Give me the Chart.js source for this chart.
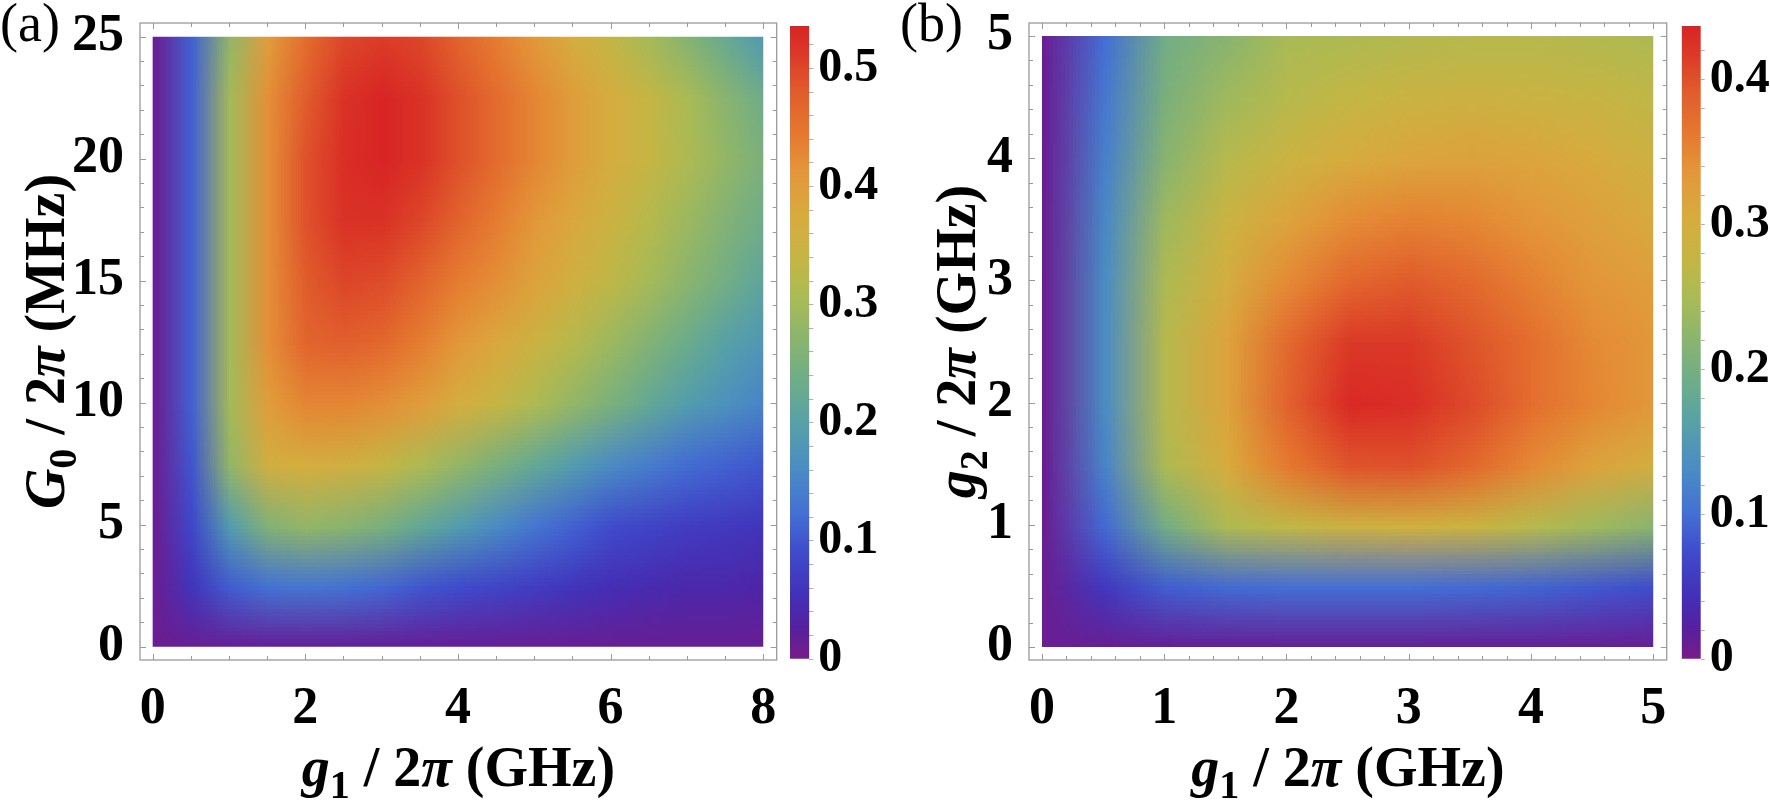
<!DOCTYPE html>
<html>
<head>
<meta charset="utf-8">
<script src="https://cdn.jsdelivr.net/npm/chart.js@4.4.1/dist/chart.umd.min.js"></script>
<style>
  body { margin: 0; background: #fff; width: 1770px; height: 803px; overflow: hidden; }
  canvas { position: absolute; top: 0; }
</style>
</head>
<body>
<canvas id="heatA" width="790" height="803" style="left:0px"></canvas>
<canvas id="barA" width="100" height="803" style="left:780px"></canvas>
<canvas id="heatB" width="802" height="803" style="left:870px"></canvas>
<canvas id="barB" width="98" height="803" style="left:1672px"></canvas>
<script>
// ---- panel (a): g1 (GHz) vs G0 (MHz) ----
const xsA = [0, 0.5, 1, 1.5, 2, 2.5, 3, 3.5, 4, 4.5, 5, 5.5, 6, 6.5, 7, 7.5, 8];
const ysA = [0, 2.5, 5, 7.5, 10, 12.5, 15, 17.5, 20, 22.5, 25];
// rows go from G0 = 0 (first) up to G0 = 25 (last)
const zA = [
  [0.010, 0.012, 0.014, 0.015, 0.015, 0.015, 0.015, 0.015, 0.014, 0.014, 0.013, 0.013, 0.012, 0.012, 0.012, 0.012, 0.012],
  [0.010, 0.060, 0.105, 0.125, 0.130, 0.125, 0.115, 0.100, 0.090, 0.080, 0.070, 0.060, 0.050, 0.045, 0.040, 0.040, 0.035],
  [0.010, 0.085, 0.190, 0.260, 0.280, 0.270, 0.250, 0.220, 0.190, 0.160, 0.130, 0.110, 0.090, 0.080, 0.070, 0.065, 0.060],
  [0.010, 0.100, 0.280, 0.360, 0.370, 0.360, 0.340, 0.310, 0.280, 0.250, 0.220, 0.190, 0.160, 0.140, 0.120, 0.110, 0.100],
  [0.010, 0.110, 0.300, 0.400, 0.430, 0.430, 0.420, 0.400, 0.370, 0.340, 0.310, 0.280, 0.250, 0.220, 0.190, 0.170, 0.150],
  [0.010, 0.110, 0.300, 0.420, 0.470, 0.475, 0.465, 0.440, 0.410, 0.380, 0.350, 0.320, 0.290, 0.260, 0.230, 0.200, 0.180],
  [0.010, 0.110, 0.300, 0.420, 0.480, 0.500, 0.495, 0.470, 0.440, 0.420, 0.390, 0.360, 0.330, 0.300, 0.270, 0.240, 0.210],
  [0.010, 0.110, 0.300, 0.420, 0.490, 0.520, 0.520, 0.500, 0.470, 0.440, 0.410, 0.380, 0.350, 0.320, 0.290, 0.260, 0.235],
  [0.010, 0.110, 0.300, 0.420, 0.490, 0.525, 0.535, 0.520, 0.490, 0.460, 0.430, 0.400, 0.370, 0.340, 0.310, 0.280, 0.250],
  [0.010, 0.110, 0.300, 0.420, 0.480, 0.520, 0.535, 0.520, 0.490, 0.460, 0.430, 0.400, 0.370, 0.340, 0.305, 0.270, 0.235],
  [0.010, 0.110, 0.280, 0.400, 0.460, 0.500, 0.510, 0.500, 0.470, 0.440, 0.410, 0.370, 0.335, 0.300, 0.265, 0.225, 0.185]
];
const xTicksA = [0, 2, 4, 6, 8];
const yTicksA = [0, 5, 10, 15, 20, 25];
const cbMaxA = 0.536;
const cbTicksA = [0, 0.1, 0.2, 0.3, 0.4, 0.5];
const cbLabelsA = ['0', '0.1', '0.2', '0.3', '0.4', '0.5'];

// ---- panel (b): g1 (GHz) vs g2 (GHz) ----
const xsB = [0, 0.5, 1, 1.5, 2, 2.5, 3, 3.5, 4, 4.5, 5];
const ysB = [0, 0.5, 1, 1.5, 2, 2.5, 3, 3.5, 4, 4.5, 5];
const zB = [
  [0.009, 0.010, 0.012, 0.012, 0.012, 0.012, 0.012, 0.012, 0.012, 0.011, 0.010],
  [0.009, 0.052, 0.087, 0.096, 0.100, 0.100, 0.100, 0.096, 0.092, 0.083, 0.074],
  [0.009, 0.096, 0.197, 0.253, 0.271, 0.288, 0.293, 0.284, 0.262, 0.240, 0.219],
  [0.009, 0.122, 0.253, 0.306, 0.362, 0.398, 0.400, 0.380, 0.348, 0.318, 0.297],
  [0.009, 0.131, 0.262, 0.318, 0.385, 0.432, 0.428, 0.405, 0.373, 0.350, 0.332],
  [0.009, 0.131, 0.262, 0.318, 0.378, 0.418, 0.418, 0.398, 0.372, 0.347, 0.333],
  [0.009, 0.131, 0.253, 0.300, 0.347, 0.380, 0.392, 0.378, 0.355, 0.335, 0.325],
  [0.009, 0.127, 0.240, 0.284, 0.318, 0.345, 0.355, 0.350, 0.336, 0.322, 0.308],
  [0.009, 0.118, 0.219, 0.262, 0.284, 0.306, 0.315, 0.319, 0.315, 0.306, 0.288],
  [0.009, 0.109, 0.205, 0.240, 0.262, 0.275, 0.284, 0.288, 0.284, 0.280, 0.271],
  [0.009, 0.100, 0.197, 0.219, 0.249, 0.253, 0.258, 0.262, 0.262, 0.258, 0.253]
];
const xTicksB = [0, 1, 2, 3, 4, 5];
const yTicksB = [0, 1, 2, 3, 4, 5];
const cbMaxB = 0.437;
const cbTicksB = [0, 0.1, 0.2, 0.3, 0.4];
const cbLabelsB = ['0', '0.1', '0.2', '0.3', '0.4'];

// axis titles, split where the font style changes
const titleAX = [['g', 'bi'], ['1', 'sub'], [' / 2', 'b'], ['π', 'bi'], [' (GHz)', 'b']];
const titleAY = [['G', 'bi'], ['0', 'sub'], [' / 2', 'b'], ['π', 'bi'], [' (MHz)', 'b']];
const titleBX = titleAX;
const titleBY = [['g', 'bi'], ['2', 'sub'], [' / 2', 'b'], ['π', 'bi'], [' (GHz)', 'b']];

// rainbow colour map (fraction of max -> colour)
const cmapStops = [
  [0.00, '#781c8a'], [0.05, '#55209f'], [0.10, '#4230b8'], [0.17, '#3f4ccc'],
  [0.23, '#4470d4'], [0.30, '#4a8cc4'], [0.37, '#56a0a8'], [0.43, '#6aac8c'],
  [0.50, '#88b470'], [0.57, '#aabb55'], [0.63, '#c4b644'], [0.70, '#d8ab3e'],
  [0.77, '#e4963a'], [0.83, '#e6782f'], [0.90, '#e05a2c'], [0.95, '#dc3c28'],
  [1.00, '#d82424']
];

const SERIF = '"Liberation Serif", "Times New Roman", serif';
Chart.defaults.font.family = SERIF;
Chart.defaults.color = '#000';

function hexRgb(h) {
  return [parseInt(h.slice(1, 3), 16), parseInt(h.slice(3, 5), 16), parseInt(h.slice(5, 7), 16)];
}
const cmapRgb = cmapStops.map(([f, c]) => [f, hexRgb(c)]);

function colorAt(f) {
  f = Math.max(0, Math.min(1, f));
  for (let i = 1; i < cmapRgb.length; i++) {
    const [f1, c1] = cmapRgb[i];
    if (f <= f1) {
      const [f0, c0] = cmapRgb[i - 1];
      const t = (f - f0) / (f1 - f0);
      return c0.map((v, k) => Math.round(v + (c1[k] - v) * t));
    }
  }
  return cmapRgb[cmapRgb.length - 1][1];
}

function gridPoints(xs, ys, z) {
  const pts = [];
  ys.forEach((y, j) => xs.forEach((x, i) => pts.push({ x, y, v: z[j][i] })));
  return pts;
}

// paints the grid through the chart's x/y scales, one texel per cell
const heatmapPlugin = {
  id: 'heatmap',
  beforeDatasetsDraw(chart) {
    const heat = chart.data.datasets[0].heat;
    if (!heat) return;
    const { xs, ys, z, vmax } = heat;
    const sx = chart.scales.x, sy = chart.scales.y;
    const w = xs.length, h = ys.length;
    const off = document.createElement('canvas');
    off.width = w;
    off.height = h;
    const octx = off.getContext('2d');
    const img = octx.createImageData(w, h);
    for (let j = 0; j < h; j++) {
      for (let i = 0; i < w; i++) {
        const c = colorAt(z[j][i] / vmax);
        const k = ((h - 1 - j) * w + i) * 4;
        img.data[k] = c[0];
        img.data[k + 1] = c[1];
        img.data[k + 2] = c[2];
        img.data[k + 3] = 255;
      }
    }
    octx.putImageData(img, 0, 0);

    const dx = (xs[w - 1] - xs[0]) / (w - 1);
    const dy = (ys[h - 1] - ys[0]) / (h - 1);
    const left = sx.getPixelForValue(xs[0] - dx / 2);
    const right = sx.getPixelForValue(xs[w - 1] + dx / 2);
    const top = sy.getPixelForValue(ys[h - 1] + dy / 2);
    const bottom = sy.getPixelForValue(ys[0] - dy / 2);

    const ctx = chart.ctx;
    ctx.save();
    const cx0 = sx.getPixelForValue(xs[0]), cx1 = sx.getPixelForValue(xs[w - 1]);
    const cy0 = sy.getPixelForValue(ys[h - 1]), cy1 = sy.getPixelForValue(ys[0]);
    ctx.beginPath();
    ctx.rect(cx0, cy0, cx1 - cx0, cy1 - cy0);
    ctx.clip();
    ctx.imageSmoothingEnabled = true;
    ctx.drawImage(off, left, top, right - left, bottom - top);
    ctx.restore();
  }
};

// grey frame with small inward ticks on all four sides
const framePlugin = {
  id: 'frame',
  afterDraw(chart, args, o) {
    if (!o || !o.xStep) return;
    const { ctx, chartArea: a } = chart;
    const sx = chart.scales.x, sy = chart.scales.y;
    ctx.save();
    ctx.strokeStyle = '#9a9a9a';
    ctx.lineWidth = 1.3;
    ctx.strokeRect(a.left, a.top, a.right - a.left, a.bottom - a.top);
    ctx.lineWidth = 1;
    ctx.beginPath();
    const n = Math.round(o.xMax / o.xStep);
    for (let i = 0; i <= n; i++) {
      const v = i * o.xStep;
      const L = (i % o.xEvery === 0) ? 6 : 4;
      const p = Math.round(sx.getPixelForValue(v)) + 0.5;
      ctx.moveTo(p, a.bottom); ctx.lineTo(p, a.bottom - L);
      ctx.moveTo(p, a.top); ctx.lineTo(p, a.top + L);
    }
    const m = Math.round(o.yMax / o.yStep);
    for (let i = 0; i <= m; i++) {
      const v = i * o.yStep;
      const L = (i % o.yEvery === 0) ? 6 : 4;
      const p = Math.round(sy.getPixelForValue(v)) + 0.5;
      ctx.moveTo(a.left, p); ctx.lineTo(a.left + L, p);
      ctx.moveTo(a.right, p); ctx.lineTo(a.right - L, p);
    }
    ctx.stroke();
    ctx.restore();
  }
};

function pieceFont(style, size) {
  if (style === 'bi') return `italic bold ${size}px ${SERIF}`;
  if (style === 'sub') return `bold ${Math.round(size * 0.72)}px ${SERIF}`;
  return `bold ${size}px ${SERIF}`;
}

function drawPieces(ctx, pieces, size) {
  let total = 0;
  const widths = pieces.map(([t, s]) => {
    ctx.font = pieceFont(s, size);
    const w = ctx.measureText(t).width;
    total += w;
    return w;
  });
  let x = -total / 2;
  pieces.forEach(([t, s], i) => {
    ctx.font = pieceFont(s, size);
    ctx.fillText(t, x, s === 'sub' ? size * 0.22 : 0);
    x += widths[i];
  });
}

// axis titles and the panel letter
const titlesPlugin = {
  id: 'titles',
  afterDraw(chart, args, o) {
    if (!o || !o.xPieces) return;
    const { ctx, chartArea: a } = chart;
    ctx.save();
    ctx.fillStyle = '#000';
    ctx.textBaseline = 'alphabetic';
    ctx.textAlign = 'left';
    ctx.save();
    ctx.translate((a.left + a.right) / 2, o.xBaseline);
    drawPieces(ctx, o.xPieces, o.size);
    ctx.restore();
    ctx.save();
    ctx.translate(o.yBaseline, (a.top + a.bottom) / 2);
    ctx.rotate(-Math.PI / 2);
    drawPieces(ctx, o.yPieces, o.size);
    ctx.restore();
    ctx.font = `54px ${SERIF}`;
    ctx.fillText(o.letter, o.letterX, 41);
    ctx.restore();
  }
};

function heatChart(id, opts) {
  return new Chart(document.getElementById(id), {
    type: 'scatter',
    data: {
      datasets: [{
        data: gridPoints(opts.xs, opts.ys, opts.z),
        heat: { xs: opts.xs, ys: opts.ys, z: opts.z, vmax: opts.vmax },
        pointRadius: 0,
        pointHoverRadius: 0,
        showLine: false
      }]
    },
    options: {
      responsive: false,
      devicePixelRatio: 1,
      animation: false,
      events: [],
      layout: { padding: { top: 23, right: opts.padRight, left: 0, bottom: 0 } },
      scales: {
        x: {
          type: 'linear',
          min: opts.xMin, max: opts.xMax,
          afterBuildTicks: s => { s.ticks = opts.xTicks.map(v => ({ value: v })); },
          afterFit: s => { s.height = 143; s.paddingLeft = 0; s.paddingRight = 0; },
          ticks: { font: { size: 52, weight: 'bold' }, color: '#000', padding: 10, maxRotation: 0, minRotation: 0, autoSkip: false },
          grid: { display: false },
          border: { display: false }
        },
        y: {
          type: 'linear',
          min: opts.yMin, max: opts.yMax,
          afterBuildTicks: s => { s.ticks = opts.yTicks.map(v => ({ value: v })); },
          afterFit: s => { s.width = opts.axisW; s.paddingTop = 0; s.paddingBottom = 0; },
          ticks: { font: { size: 52, weight: 'bold' }, color: '#000', padding: 8, autoSkip: false },
          grid: { display: false },
          border: { display: false }
        }
      },
      plugins: {
        legend: { display: false },
        tooltip: { enabled: false },
        frame: opts.frame,
        titles: opts.titles
      }
    },
    plugins: [heatmapPlugin, framePlugin, titlesPlugin]
  });
}

function gradientFill(context) {
  const chart = context.chart;
  if (!chart.chartArea) return '#888';
  const sy = chart.scales.y;
  const g = chart.ctx.createLinearGradient(0, sy.getPixelForValue(sy.min), 0, sy.getPixelForValue(sy.max));
  cmapStops.forEach(([f, c]) => g.addColorStop(f, c));
  return g;
}

function colorBar(id, max, majors, labels, padLeft, barW, canvasW) {
  const minors = [];
  for (let i = 0; i * 0.02 <= max + 1e-9; i++) minors.push(+(i * 0.02).toFixed(2));
  return new Chart(document.getElementById(id), {
    type: 'bar',
    data: {
      labels: [''],
      datasets: [{
        data: [[0, max]],
        backgroundColor: gradientFill,
        borderWidth: 0,
        barPercentage: 1,
        categoryPercentage: 1
      }]
    },
    options: {
      responsive: false,
      devicePixelRatio: 1,
      animation: false,
      events: [],
      layout: { padding: { left: padLeft, top: 26, right: 0, bottom: 144 } },
      scales: {
        x: { display: false },
        y: {
          position: 'right',
          min: 0, max: max,
          afterBuildTicks: s => { s.ticks = minors.map(v => ({ value: v })); },
          afterFit: s => { s.width = canvasW - padLeft - barW; s.paddingTop = 0; s.paddingBottom = 0; },
          ticks: {
            autoSkip: false,
            padding: 5,
            font: { size: 48, weight: 'bold' },
            color: '#000',
            callback: v => {
              const k = majors.findIndex(m => Math.abs(m - v) < 1e-6);
              return k >= 0 ? labels[k] : '';
            }
          },
          grid: { drawOnChartArea: false, drawTicks: true, tickLength: 4, color: '#b0b0b0' },
          border: { display: false }
        }
      },
      plugins: { legend: { display: false }, tooltip: { enabled: false } }
    }
  });
}

heatChart('heatA', {
  xs: xsA, ys: ysA, z: zA, vmax: cbMaxA,
  xMin: -0.166, xMax: 8.176, yMin: -0.545, yMax: 25.56,
  xTicks: xTicksA, yTicks: yTicksA,
  axisW: 140, padRight: 13.3,
  frame: { xStep: 0.5, xEvery: 4, xMax: 8, yStep: 1, yEvery: 5, yMax: 25 },
  titles: { xPieces: titleAX, yPieces: titleAY, size: 56, xBaseline: 786, yBaseline: 64, letter: '(a)', letterX: 0 }
});
colorBar('barA', cbMaxA, cbTicksA, cbLabelsA, 10, 19.3, 100);

heatChart('heatB', {
  xs: xsB, ys: ysB, z: zB, vmax: cbMaxB,
  xMin: -0.106, xMax: 5.11, yMin: -0.106, yMax: 5.106,
  xTicks: xTicksB, yTicks: yTicksB,
  axisW: 159, padRight: 5.3,
  frame: { xStep: 0.2, xEvery: 5, xMax: 5, yStep: 0.2, yEvery: 5, yMax: 5 },
  titles: { xPieces: titleBX, yPieces: titleBY, size: 56, xBaseline: 786, yBaseline: 105, letter: '(b)', letterX: 30 }
});
colorBar('barB', cbMaxB, cbTicksB, cbLabelsB, 9.7, 19, 98);
</script>
</body>
</html>
